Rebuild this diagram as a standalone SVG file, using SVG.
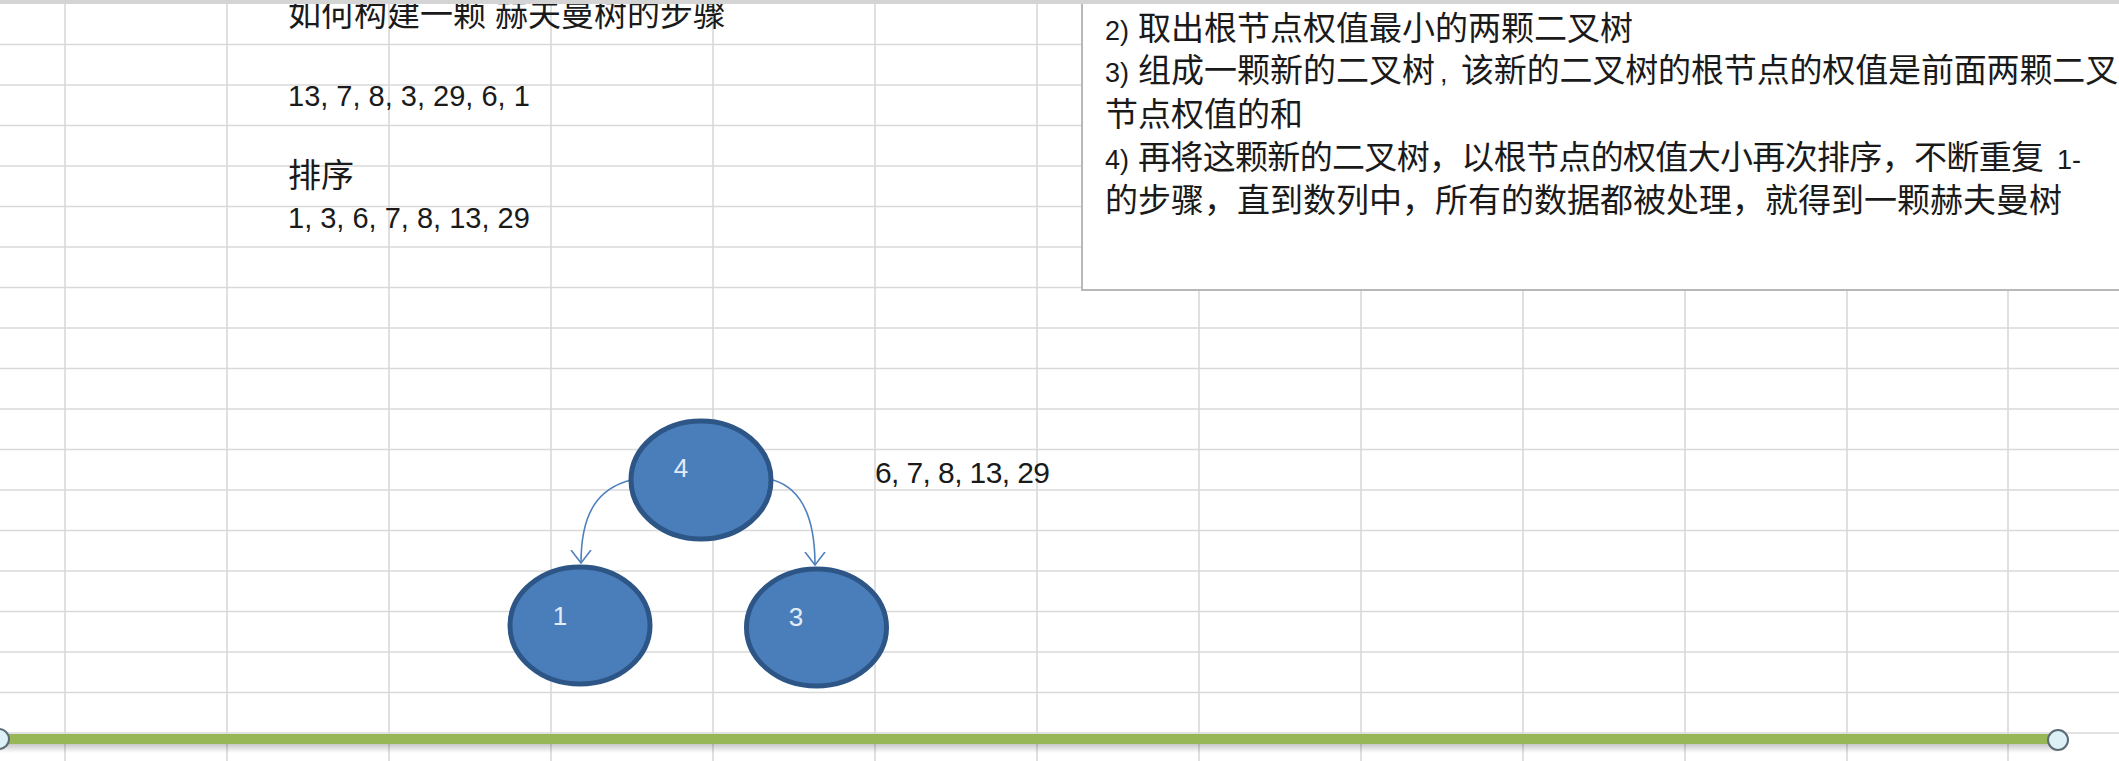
<svg xmlns="http://www.w3.org/2000/svg" width="2119" height="761" viewBox="0 0 2119 761">
<defs>
<style>
.grid line{stroke:#d9d9d9;stroke-width:1.6}
.txt{font-family:"Liberation Sans","Noto Sans CJK SC",sans-serif;fill:#1a1a1a}
.cjk{font-family:"Noto Sans CJK SC","Liberation Sans",sans-serif;font-size:33px;fill:#1a1a1a}
.lat{font-family:"Liberation Sans","Noto Sans CJK SC",sans-serif;font-size:27px;fill:#1a1a1a}
.node ellipse{fill:#4a7ebb;stroke:#2d5687;stroke-width:5}
.node text{font-family:"Liberation Sans",sans-serif;font-size:26px;fill:#e4ecf7;text-anchor:middle}
.conn path{fill:none;stroke:#4f81bd;stroke-width:1.6}
</style>
<marker id="vee" viewBox="0 0 14 22" refX="13" refY="11" markerWidth="14" markerHeight="22" markerUnits="userSpaceOnUse" orient="auto">
<path d="M0,1 L13,11 L0,21" fill="none" stroke="#4f81bd" stroke-width="1.6"/>
</marker>
<linearGradient id="shadow" x1="0" y1="0" x2="0" y2="1">
<stop offset="0" stop-color="#000" stop-opacity="0.22"/>
<stop offset="1" stop-color="#000" stop-opacity="0"/>
</linearGradient>
</defs>
<rect x="0" y="0" width="2119" height="761" fill="#ffffff"/>
<g class="grid" id="grid">
<line x1="65" y1="0" x2="65" y2="761"/>
<line x1="227" y1="0" x2="227" y2="761"/>
<line x1="389" y1="0" x2="389" y2="761"/>
<line x1="551" y1="0" x2="551" y2="761"/>
<line x1="713" y1="0" x2="713" y2="761"/>
<line x1="875" y1="0" x2="875" y2="761"/>
<line x1="1037" y1="0" x2="1037" y2="761"/>
<line x1="1199" y1="0" x2="1199" y2="761"/>
<line x1="1361" y1="0" x2="1361" y2="761"/>
<line x1="1523" y1="0" x2="1523" y2="761"/>
<line x1="1685" y1="0" x2="1685" y2="761"/>
<line x1="1847" y1="0" x2="1847" y2="761"/>
<line x1="2008" y1="0" x2="2008" y2="761"/>
<line x1="0" y1="44.5" x2="2119" y2="44.5"/>
<line x1="0" y1="85" x2="2119" y2="85"/>
<line x1="0" y1="125.5" x2="2119" y2="125.5"/>
<line x1="0" y1="166" x2="2119" y2="166"/>
<line x1="0" y1="206.5" x2="2119" y2="206.5"/>
<line x1="0" y1="247" x2="2119" y2="247"/>
<line x1="0" y1="287.5" x2="2119" y2="287.5"/>
<line x1="0" y1="328" x2="2119" y2="328"/>
<line x1="0" y1="368.5" x2="2119" y2="368.5"/>
<line x1="0" y1="409" x2="2119" y2="409"/>
<line x1="0" y1="449.5" x2="2119" y2="449.5"/>
<line x1="0" y1="490" x2="2119" y2="490"/>
<line x1="0" y1="530.5" x2="2119" y2="530.5"/>
<line x1="0" y1="571" x2="2119" y2="571"/>
<line x1="0" y1="611.5" x2="2119" y2="611.5"/>
<line x1="0" y1="652" x2="2119" y2="652"/>
<line x1="0" y1="692.5" x2="2119" y2="692.5"/>
<line x1="0" y1="733" x2="2119" y2="733"/>
</g>
<g id="left-text">
<text class="cjk" x="288" y="25.5">如何构建一颗</text>
<text class="cjk" x="495" y="25.5">赫夫曼树的步骤</text>
<text class="txt" x="288" y="106" font-size="29">13, 7, 8, 3, 29, 6, 1</text>
<text class="cjk" x="288" y="187">排序</text>
<text class="txt" x="288" y="228" font-size="29">1, 3, 6, 7, 8, 13, 29</text>
</g>
<g id="textbox">
<rect x="1082" y="3" width="1060" height="287" fill="#ffffff" stroke="#b8b8b8" stroke-width="2"/>
<text class="lat" x="1105" y="40">2)</text>
<text class="cjk" x="1138" y="40">取出根节点权值最小的两颗二叉树</text>
<text class="lat" x="1105" y="82">3)</text>
<text class="cjk" x="1138" y="82">组成一颗新的二叉树</text>
<text class="lat" x="1440" y="82">,</text>
<text class="cjk" x="1461" y="82" textLength="690" lengthAdjust="spacing">该新的二叉树的根节点的权值是前面两颗二叉树</text>
<text class="cjk" x="1105" y="126">节点权值的和</text>
<text class="lat" x="1105" y="169">4)</text>
<text class="cjk" x="1138" y="169" textLength="906" lengthAdjust="spacing">再将这颗新的二叉树，以根节点的权值大小再次排序，不断重复</text>
<text class="lat" x="2057" y="169">1-</text>
<text class="cjk" x="1105" y="212">的步骤，直到数列中，所有的数据都被处理，就得到一颗赫夫曼树</text>
</g>
<rect x="0" y="0" width="2119" height="4" fill="#d4d4d4"/>
<text class="txt" x="875" y="483" font-size="30" textLength="175" lengthAdjust="spacing">6, 7, 8, 13, 29</text>
<g class="conn" id="connectors">
<path d="M631,480 C600,488 581,510 581,563" marker-end="url(#vee)"/>
<path d="M773,480 C800,488 815,515 815,565" marker-end="url(#vee)"/>
</g>
<g class="node" id="node-4">
<ellipse cx="701" cy="480" rx="70" ry="59"/>
<text x="681" y="477">4</text>
</g>
<g class="node" id="node-1">
<ellipse cx="580" cy="625.5" rx="70" ry="58.5"/>
<text x="560" y="625">1</text>
</g>
<g class="node" id="node-3">
<ellipse cx="816.5" cy="627.5" rx="70" ry="58.5"/>
<text x="796" y="626">3</text>
</g>
<g id="line-shape">
<rect x="0" y="744" width="2058" height="9" fill="url(#shadow)"/>
<rect x="0" y="734" width="2058" height="10" fill="#97b757"/>
<circle cx="-1" cy="739" r="10" fill="#dcf0f6" stroke="#5b6b73" stroke-width="2"/>
<circle cx="2058" cy="740" r="10" fill="#dcf0f6" stroke="#5b6b73" stroke-width="2"/>
</g>
</svg>
